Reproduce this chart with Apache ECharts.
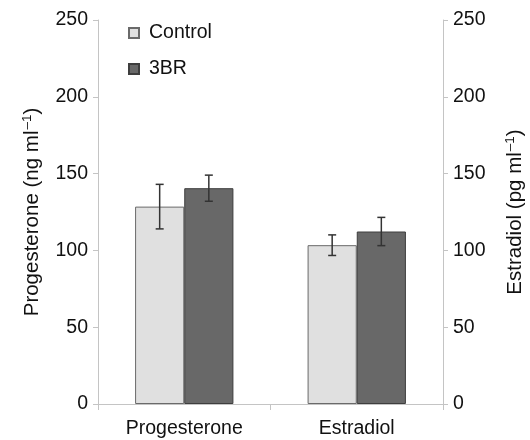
<!DOCTYPE html>
<html>
<head>
<meta charset="utf-8">
<script src="https://cdn.jsdelivr.net/npm/echarts@6/dist/echarts.min.js"></script>
<style>html,body{margin:0;padding:0;background:#fff}#c{width:530px;height:440px}</style>
</head>
<body>
<div id="c"></div>
<script>
var categories = ['Progesterone', 'Estradiol'];
var seriesNames = ['Control', '3BR'];
var controlValues = [128.5, 103.4];
var controlErrors = [14.5, 6.7];
var brValues = [140.5, 112.3];
var brErrors = [8.5, 9.2];
var yTicks = [0, 50, 100, 150, 200, 250];
var leftTitle = 'Progesterone (ng ml{sup|\u20131})';
var rightTitle = 'Estradiol (pg ml{sup|\u20131})';

var GAP = 0.43;
var FONT = '"Liberation Sans", Arial, sans-serif';
var FS = 19.5;

function errorSeries(values, errors, idx) {
  var data = values.map(function (v, i) { return [i, v, errors[i]]; });
  return {
    type: 'custom',
    name: seriesNames[idx] + ' err',
    z: 10,
    silent: true,
    renderItem: function (params, api) {
      var ci = api.value(0), v = api.value(1), e = api.value(2);
      var band = api.size([1, 0])[0];
      var bw = band * (1 - GAP) / 2;
      var c = api.coord([ci, v]);
      var x = c[0] + (idx === 0 ? -bw / 2 : bw / 2);
      var top = api.coord([ci, v + e])[1];
      var bot = api.coord([ci, v - e])[1];
      var cap = 4;
      var st = { stroke: '#333', lineWidth: 1.5 };
      return {
        type: 'group',
        children: [
          { type: 'line', shape: { x1: x, y1: top, x2: x, y2: bot }, style: st },
          { type: 'line', shape: { x1: x - cap, y1: top, x2: x + cap, y2: top }, style: st },
          { type: 'line', shape: { x1: x - cap, y1: bot, x2: x + cap, y2: bot }, style: st }
        ]
      };
    },
    data: data
  };
}

var chart = echarts.init(document.getElementById('c'));
var axisLineStyle = { color: '#c4c4c4', width: 1 };
var labelStyle = { fontSize: FS, color: '#111', margin: 10, fontFamily: FONT };
var nameStyle = {
  fontSize: 20.5, color: '#111', fontFamily: FONT, lineHeight: 24,
  rich: { sup: { fontSize: 13.5, color: '#111', fontFamily: FONT, verticalAlign: 'top', lineHeight: 14, padding: [0, 0, 0, 1] } }
};
chart.setOption({
  animation: false,
  textStyle: { fontFamily: FONT },
  grid: { left: 98, right: 87, top: 20, bottom: 36, containLabel: false, outerBoundsMode: 'none' },
  legend: {
    orient: 'vertical',
    left: 123,
    top: 17,
    icon: 'rect',
    itemWidth: 10,
    itemHeight: 10,
    itemGap: 14,
    data: seriesNames,
    textStyle: { fontSize: FS, color: '#111', lineHeight: 22, fontFamily: FONT, padding: [0, 0, 0, 5] }
  },
  xAxis: {
    type: 'category',
    data: categories,
    axisLine: { lineStyle: axisLineStyle },
    axisTick: { show: true, length: 6, lineStyle: axisLineStyle },
    axisLabel: { fontSize: FS, color: '#111', margin: 15, fontFamily: FONT }
  },
  yAxis: [{
    type: 'value',
    min: yTicks[0], max: yTicks[yTicks.length - 1], interval: 50,
    name: leftTitle,
    nameLocation: 'middle',
    nameGap: 52,
    nameTextStyle: nameStyle,
    axisLine: { show: true, lineStyle: axisLineStyle },
    axisTick: { show: true, length: 5, lineStyle: axisLineStyle },
    splitLine: { show: false },
    axisLabel: labelStyle
  }, {
    type: 'value',
    position: 'right',
    min: yTicks[0], max: yTicks[yTicks.length - 1], interval: 50,
    name: rightTitle,
    nameLocation: 'middle',
    nameGap: 60,
    nameRotate: 90,
    nameTextStyle: nameStyle,
    axisLine: { show: true, lineStyle: axisLineStyle },
    axisTick: { show: true, length: 5, lineStyle: axisLineStyle },
    splitLine: { show: false },
    axisLabel: labelStyle
  }],
  series: [{
    type: 'bar',
    name: seriesNames[0],
    data: controlValues,
    barGap: '0%',
    barCategoryGap: (GAP * 100) + '%',
    itemStyle: { color: '#e0e0e0', borderColor: '#6a6a6a', borderWidth: 1 }
  }, {
    type: 'bar',
    name: seriesNames[1],
    data: brValues,
    barGap: '0%',
    barCategoryGap: (GAP * 100) + '%',
    itemStyle: { color: '#686868', borderColor: '#3e3e3e', borderWidth: 1 }
  },
  errorSeries(controlValues, controlErrors, 0),
  errorSeries(brValues, brErrors, 1)]
});
</script>
</body>
</html>
